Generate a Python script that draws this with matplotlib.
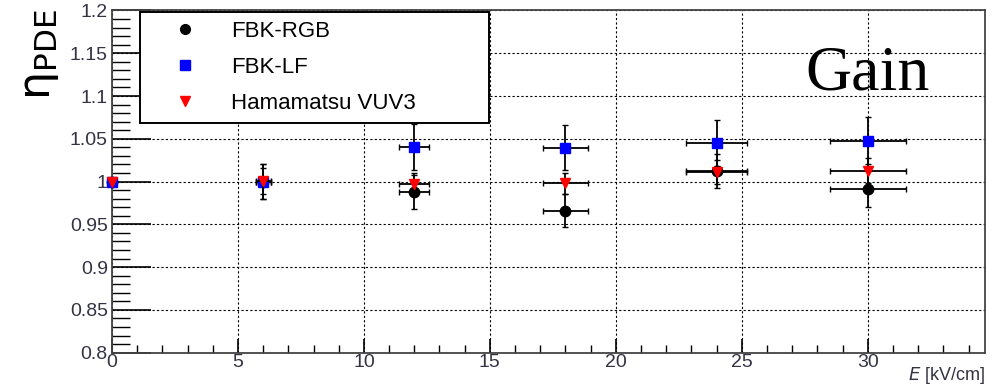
import matplotlib
matplotlib.use('Agg')
import matplotlib.pyplot as plt
from matplotlib.ticker import MultipleLocator
from matplotlib.lines import Line2D

# field values [kV/cm] and horizontal errors
E = [0, 6, 12, 18, 24, 30]
E_err = [0, 0.3, 0.6, 0.9, 1.2, 1.5]

# relative PDE, normalised to 0 kV/cm
rgb = [1.0, 1.0, 0.988, 0.966, 1.012, 0.991]
rgb_err = [0, 0.02, 0.02, 0.019, 0.02, 0.021]
lf = [1.0, 1.0, 1.0405, 1.0397, 1.0455, 1.048]
lf_err = [0, 0.02, 0.027, 0.026, 0.027, 0.028]
vuv3 = [1.0, 1.001, 0.997, 0.998, 1.0116, 1.0128]
vuv3_err = [0, 0.015, 0.013, 0.012, 0.014, 0.015]

plt.rcParams['font.family'] = ['Liberation Sans', 'DejaVu Sans']

fig = plt.figure(figsize=(10.05, 3.87), dpi=100)
ax = fig.add_axes([0.1114, 0.0886, 0.8686, 0.8843])

series = [
    (rgb, rgb_err, 'o', 'black', 7.5),
    (lf, lf_err, 's', '#0000ff', 7),
    (vuv3, vuv3_err, 'v', '#ff0000', 7.5),
]
for i, (y, yerr, m, c, ms) in enumerate(series):
    cont = ax.errorbar(E, y, xerr=E_err, yerr=yerr, fmt=m, color=c, ecolor='black',
                       ms=ms, elinewidth=1.3, capsize=2, zorder=3 + i)
    cont.lines[0].set_clip_on(False)

ax.set_xlim(0, 34.65)
ax.set_ylim(0.8, 1.2)
ax.xaxis.set_major_locator(MultipleLocator(5))
ax.xaxis.set_minor_locator(MultipleLocator(1))
ax.yaxis.set_minor_locator(MultipleLocator(0.01))
ax.set_yticks([0.8, 0.85, 0.9, 0.95, 1.0, 1.05, 1.1, 1.15, 1.2])
ax.set_yticklabels(['0.8', '0.85', '0.9', '0.95', '1', '1.05', '1.1', '1.15', '1.2'])
ax.set_xticks([0, 5, 10, 15, 20, 25, 30])

ax.tick_params(axis='x', which='major', direction='in', length=10, width=1.2,
               labelsize=14, labelcolor='#333344', top=False, pad=1)
ax.tick_params(axis='x', which='minor', direction='in', length=6, width=1.0, top=False)
ax.tick_params(axis='y', which='major', direction='in', length=28, width=1.2,
               labelsize=14, labelcolor='#333344', right=False, pad=3)
ax.tick_params(axis='y', which='minor', direction='in', length=13, width=1.0, right=False)

ax.grid(True, which='major', color='black', linestyle=(0, (2, 2)), linewidth=0.8)
ax.set_axisbelow(True)
for s in ax.spines.values():
    s.set_color('#444444')
    s.set_linewidth(1.3)

handles = [
    Line2D([], [], ls='none', marker='o', color='black', ms=7),
    Line2D([], [], ls='none', marker='s', color='#0000ff', ms=7),
    Line2D([], [], ls='none', marker='v', color='#ff0000', ms=7),
]
labels = ['FBK-RGB', 'FBK-LF', 'Hamamatsu VUV3']
leg = ax.legend(handles, labels, loc='upper left', bbox_to_anchor=(0.032, 0.68, 0.40, 0.316),
                mode='expand', borderaxespad=0, fancybox=False, framealpha=1,
                edgecolor='black', fontsize=16, labelspacing=0.68, handletextpad=0.4,
                borderpad=0.4, handlelength=3.3, numpoints=1)
leg.get_frame().set_linewidth(1.4)
leg.set_zorder(10)

fig.text(0.04, 0.86, r'$\mathrm{η}_{\mathrm{PDE}}$', rotation=90, fontsize=32,
         ha='center', va='center')
fig.text(0.98, 0.03, r'$E$ [kV/cm]', ha='right', va='center', fontsize=13, color='#333344')
ax.text(0.937, 0.768, 'Gain', transform=ax.transAxes, ha='right', va='baseline',
        fontsize=46, family='Liberation Serif')

fig.savefig('out.png', dpi=100)
